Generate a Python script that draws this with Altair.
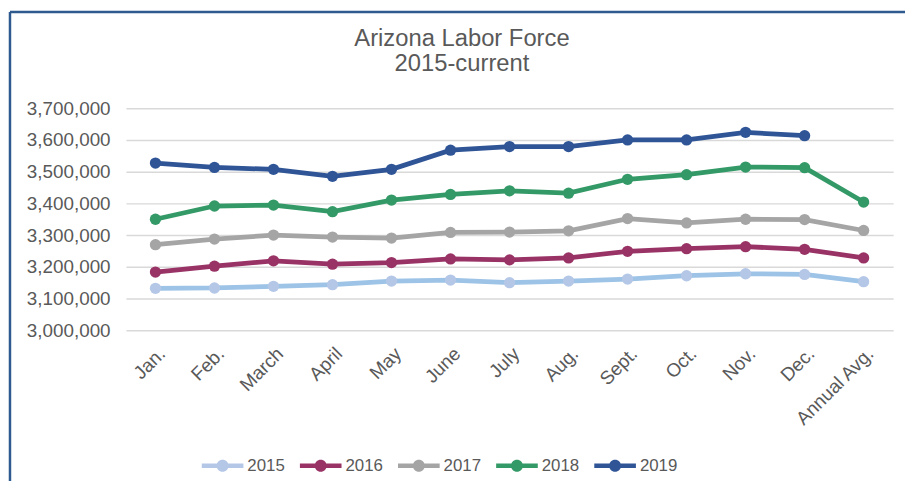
import altair as alt
import pandas as pd

months = ["Jan.", "Feb.", "March", "April", "May", "June", "July", "Aug.",
          "Sept.", "Oct.", "Nov.", "Dec.", "Annual Avg."]
years = ["2015", "2016", "2017", "2018", "2019"]

v2015 = [3132300, 3133300, 3138500, 3143800, 3155200, 3158300, 3150000,
         3155200, 3161500, 3171900, 3178100, 3176000, 3153100]
v2016 = [3183300, 3202100, 3218800, 3208300, 3213500, 3225000, 3221900,
         3228100, 3249000, 3257300, 3263500, 3255200, 3228100]
v2017 = [3269800, 3287500, 3300000, 3293800, 3290600, 3308300, 3309400,
         3313500, 3352100, 3338500, 3350000, 3349000, 3314600]
v2018 = [3350000, 3391700, 3394800, 3374000, 3410400, 3428100, 3439600,
         3432300, 3476000, 3490600, 3514600, 3512500, 3404200]
v2019 = [3527000, 3513500, 3507300, 3485400, 3507300, 3567700, 3579200,
         3579200, 3600000, 3600000, 3624000, 3613500]

y_ticks = [3000000, 3100000, 3200000, 3300000, 3400000, 3500000, 3600000, 3700000]
title_lines = ["Arizona Labor Force", "2015-current"]

line_colors = ["#9DC3E6", "#993366", "#A5A5A5", "#339966", "#2F5597"]
point_colors = ["#B4C7E7", "#993366", "#A5A5A5", "#339966", "#2F5597"]

rows = []
for yr, vals in zip(years, [v2015, v2016, v2017, v2018, v2019]):
    for m, v in zip(months, vals):
        rows.append({"Month": m, "Year": yr, "Value": v})
df = pd.DataFrame(rows)

FONT = "Liberation Sans"
GREY = "#595959"

x_enc = alt.X("Month:N", sort=months,
              scale=alt.Scale(type="point", padding=0.5),
              axis=alt.Axis(title=None, labelAngle=-45, labelFontSize=19,
                            labelColor=GREY, labelFont=FONT, ticks=False,
                            domain=False, labelPadding=14, grid=False))
y_enc = alt.Y("Value:Q", scale=alt.Scale(domain=[3000000, 3700000]),
              axis=alt.Axis(title=None, values=y_ticks,
                            labelExpr="format(datum.value, ',')",
                            labelFontSize=19, labelColor=GREY, labelFont=FONT,
                            ticks=False, domain=False, labelPadding=16,
                            gridColor="#D9D9D9", gridWidth=1.5))

legend_path = ("M-2,-0.22L2,-0.22L2,0.22L-2,0.22Z"
               "M0.58,0A0.58,0.58,0,1,1,-0.58,0A0.58,0.58,0,1,1,0.58,0Z")

lines = alt.Chart(df).mark_line(strokeWidth=4.8).encode(
    x=x_enc, y=y_enc,
    color=alt.Color("Year:N", scale=alt.Scale(domain=years, range=line_colors),
                    legend=None),
)

points = alt.Chart(df).mark_point(filled=True, size=130, opacity=1).encode(
    x=x_enc, y=y_enc,
    fill=alt.Fill("Year:N", scale=alt.Scale(domain=years, range=point_colors),
                  legend=alt.Legend(title=None, orient="none", direction="horizontal",
                                    legendX=87, legendY=350, columns=5,
                                    symbolType=legend_path, symbolSize=441,
                                    symbolStrokeWidth=0, symbolOpacity=1,
                                    labelOffset=14.5, columnPadding=14,
                                    labelFontSize=17, labelColor=GREY,
                                    labelFont=FONT, padding=0)),
)

one = pd.DataFrame({"a": [0]})
border_top = alt.Chart(one).mark_rule(
    color="#2F5A8F", strokeWidth=2.5).encode(
    x=alt.value(-117), x2=alt.value(786), y=alt.value(-97))
border_left = alt.Chart(one).mark_rule(
    color="#2F5A8F", strokeWidth=2.5).encode(
    x=alt.value(-117), y=alt.value(-97), y2=alt.value(376))
title = alt.Chart(one).mark_text(
    font=FONT, fontSize=24, color=GREY, align="center", baseline="alphabetic",
    lineHeight=25.5).encode(
    x=alt.value(339), y=alt.value(-63), text=alt.value(title_lines))

chart = alt.layer(border_top, border_left, title, lines, points).properties(
    width=774, height=224, padding=0, background="white",
).resolve_scale(color="independent", fill="independent"
).configure_view(strokeWidth=0, stroke="transparent")

chart.save("out.html", embed_options={"renderer": "svg", "actions": False})
